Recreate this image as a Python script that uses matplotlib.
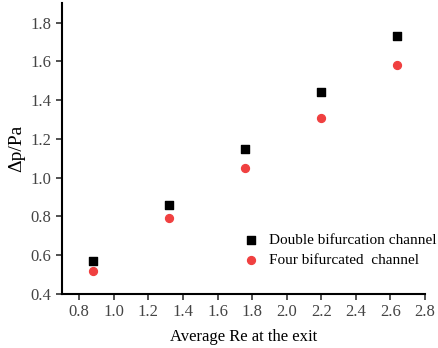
import matplotlib.pyplot as plt
import numpy as np

re = [0.88, 1.32, 1.76, 2.20, 2.64]
dp_double = [0.57, 0.86, 1.15, 1.44, 1.73]
dp_four = [0.52, 0.79, 1.05, 1.31, 1.58]
xticks = [0.8, 1.0, 1.2, 1.4, 1.6, 1.8, 2.0, 2.2, 2.4, 2.6, 2.8]
yticks = [0.4, 0.6, 0.8, 1.0, 1.2, 1.4, 1.6, 1.8]

plt.rcParams['font.family'] = 'Liberation Serif'

fig = plt.figure(figsize=(4.38, 3.48), dpi=100)
ax = fig.add_axes([0.1416, 0.155, 0.8284, 0.836])

ax.scatter(re, dp_double, marker='s', s=26, color='black', label='Double bifurcation channel', zorder=3)
ax.scatter(re, dp_four, marker='o', s=32, color='#f04040', label='Four bifurcated  channel', zorder=3)

ax.set_xlim(0.7, 2.8)
ax.set_ylim(0.4, 1.9)
ax.set_xticks(xticks)
ax.set_yticks(yticks)
ax.set_xticklabels(['%.1f' % v for v in xticks])
ax.set_yticklabels(['%.1f' % v for v in yticks])
ax.tick_params(direction='out', length=4, width=1.2, labelsize=12, colors='#333333')
ax.tick_params(labelcolor='#444444')

for s in ['top', 'right']:
    ax.spines[s].set_visible(False)
for s in ['left', 'bottom']:
    ax.spines[s].set_linewidth(1.5)

ax.set_xlabel('Average Re at the exit', fontsize=12, labelpad=6)
ax.set_ylabel('Δp/Pa', fontsize=14)

leg = ax.legend(loc='upper left', bbox_to_anchor=(0.462, 0.255), frameon=False, fontsize=11,
                handletextpad=0.7, labelspacing=0.4, handlelength=1.0)
for t in leg.get_texts():
    t.set_clip_on(False)

fig.savefig('out.png', dpi=100)
